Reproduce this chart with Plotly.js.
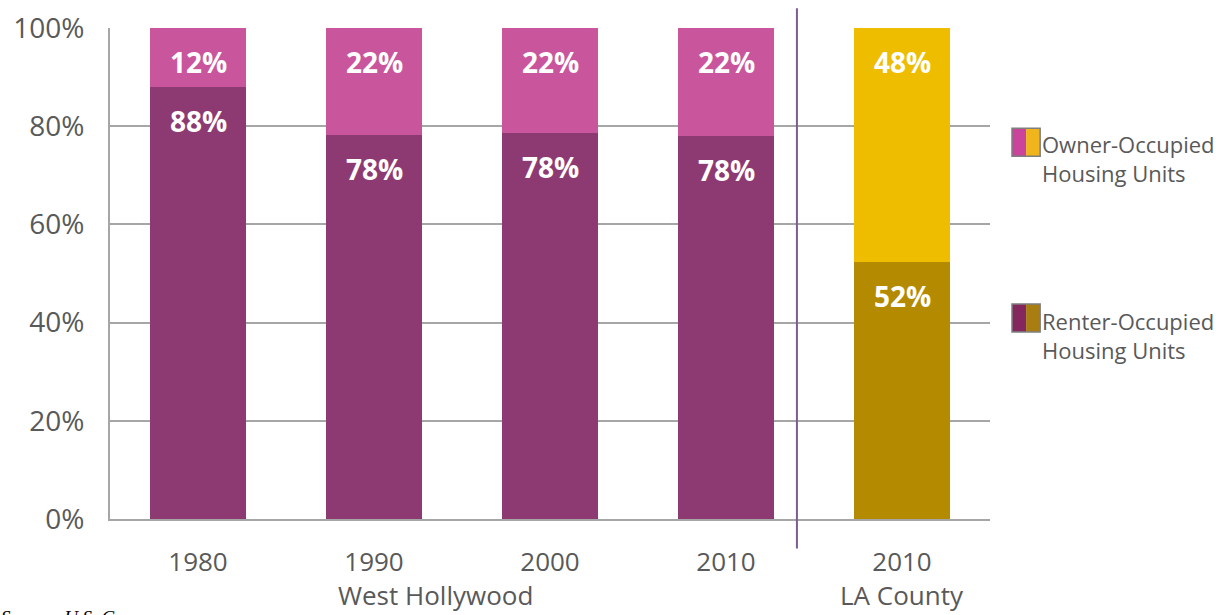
<!DOCTYPE html>
<html>
<head>
<meta charset="utf-8">
<script src="https://cdn.plot.ly/plotly-3.0.1.min.js"></script>
<style>html,body{margin:0;padding:0;background:#fff;}#chart{width:1227px;height:615px;}</style>
</head>
<body>
<div id="chart"></div>
<script>
// Data
const categories = ["1980", "1990", "2000", "2010", "2010 "];
const tickLabels = ["1980", "1990", "2000", "2010", "2010"];
const renterValues = [88, 78.2, 78.6, 78.0, 52.3];
const ownerValues = [12, 21.8, 21.4, 22.0, 47.7];
const renterLabels = ["88%", "78%", "78%", "78%", "52%"];
const ownerLabels = ["12%", "22%", "22%", "22%", "48%"];
const groupNames = ["West Hollywood", "LA County"];
const groupCenters = [1.35, 4];
const yTicks = [0, 20, 40, 60, 80, 100];
const yTickLabels = ["0%", "20%", "40%", "60%", "80%", "100%"];

const renterColors = ["#8E3A72", "#8E3A72", "#8E3A72", "#8E3A72", "#B38A00"];
const ownerColors = ["#C9559C", "#C9559C", "#C9559C", "#C9559C", "#EEBD00"];
const font = "Open Sans, Noto Sans, sans-serif";
const grey = "#595959";

const xIdx = categories.map((c, i) => i);

const traces = [
  {type: "bar", x: xIdx, y: renterValues, width: 0.55,
   marker: {color: renterColors, line: {width: 0}}, showlegend: false, hoverinfo: "none"},
  {type: "bar", x: xIdx, y: ownerValues, width: 0.55,
   marker: {color: ownerColors, line: {width: 0}}, showlegend: false, hoverinfo: "none"}
];

const annotations = [];
xIdx.forEach((i) => {
  annotations.push({x: i, y: renterValues[i] + ownerValues[i], xref: "x", yref: "y", text: ownerLabels[i],
    showarrow: false, yanchor: "middle", yshift: -34, font: {family: font, size: 28, color: "#fff", weight: 700}});
  annotations.push({x: i, y: renterValues[i], xref: "x", yref: "y", text: renterLabels[i],
    showarrow: false, yanchor: "middle", yshift: -34, font: {family: font, size: 28, color: "#fff", weight: 700}});
});
groupNames.forEach((g, k) => {
  annotations.push({x: groupCenters[k], y: 0, xref: "x", yref: "paper", text: g, showarrow: false,
    yanchor: "middle", yshift: -76, font: {family: font, size: 26, color: grey}});
});
// legend texts
annotations.push({x: 1.057, y: 0.735, xref: "paper", yref: "paper", xanchor: "left", yanchor: "middle", align: "left",
  text: "Owner-Occupied<br>Housing Units", showarrow: false, font: {family: font, size: 22, color: grey}});
annotations.push({x: 1.057, y: 0.373, xref: "paper", yref: "paper", xanchor: "left", yanchor: "middle", align: "left",
  text: "Renter-Occupied<br>Housing Units", showarrow: false, font: {family: font, size: 22, color: grey}});
// source (cut off at the bottom edge, as in the original)
annotations.push({x: -0.126, y: -0.176, xref: "paper", yref: "paper", xanchor: "left", yanchor: "top",
  text: "<i>Source: U.S. Census</i>", showarrow: false, font: {family: "Liberation Serif, serif", size: 19, color: "#000"}});

const shapes = [
  {type: "line", xref: "x", yref: "paper", x0: 3.403, x1: 3.403, y0: -0.06, y1: 1.04,
   line: {color: "#7B5D94", width: 2}},
  // legend swatches
  {type: "rect", xref: "paper", yref: "paper", x0: 1.025, x1: 1.041, y0: 0.739, y1: 0.796, fillcolor: "#C9449A", line: {width: 0}},
  {type: "rect", xref: "paper", yref: "paper", x0: 1.041, x1: 1.057, y0: 0.739, y1: 0.796, fillcolor: "#F0B51C", line: {width: 0}},
  {type: "rect", xref: "paper", yref: "paper", x0: 1.025, x1: 1.057, y0: 0.739, y1: 0.796, fillcolor: "rgba(0,0,0,0)", line: {color: "#7f7f7f", width: 1.5}},
  {type: "rect", xref: "paper", yref: "paper", x0: 1.025, x1: 1.041, y0: 0.381, y1: 0.438, fillcolor: "#84275E", line: {width: 0}},
  {type: "rect", xref: "paper", yref: "paper", x0: 1.041, x1: 1.057, y0: 0.381, y1: 0.438, fillcolor: "#A87D12", line: {width: 0}},
  {type: "rect", xref: "paper", yref: "paper", x0: 1.025, x1: 1.057, y0: 0.381, y1: 0.438, fillcolor: "rgba(0,0,0,0)", line: {color: "#7f7f7f", width: 1.5}}
];

const layout = {
  width: 1227, height: 615,
  margin: {l: 110, r: 237, t: 28, b: 96, pad: 0},
  paper_bgcolor: "#fff", plot_bgcolor: "#fff",
  barmode: "stack", bargap: 0.45,
  showlegend: false,
  xaxis: {range: [-0.5, 4.5], tickmode: "array", tickvals: xIdx, ticktext: tickLabels,
    showgrid: false, zeroline: false, showline: true, linecolor: "#A6A6A6", linewidth: 2,
    ticks: "", ticklabelstandoff: 19, tickfont: {family: font, size: 26, color: grey}, fixedrange: true},
  yaxis: {range: [0, 100], tickmode: "array", tickvals: yTicks, ticktext: yTickLabels,
    showgrid: true, gridcolor: "#A6A6A6", gridwidth: 2, zeroline: false,
    showline: true, linecolor: "#A6A6A6", linewidth: 2, ticks: "", ticklabelstandoff: 18,
    tickfont: {family: font, size: 28, color: grey}, fixedrange: true},
  annotations: annotations,
  shapes: shapes
};

Plotly.newPlot("chart", traces, layout, {displayModeBar: false, staticPlot: true});
</script>
</body>
</html>
